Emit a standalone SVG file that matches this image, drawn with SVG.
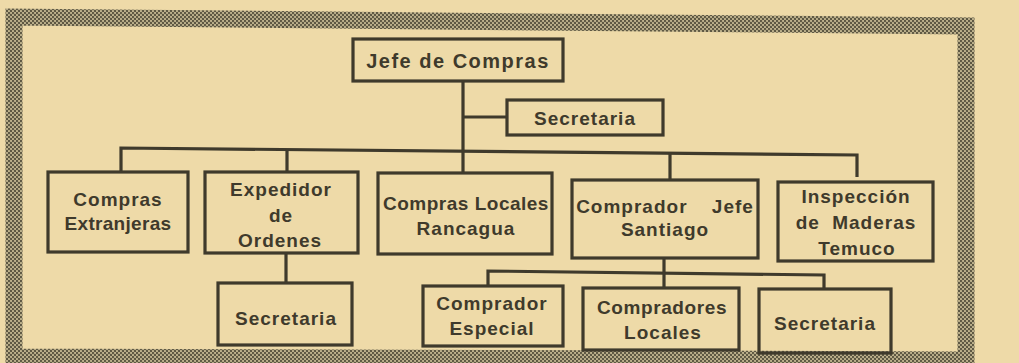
<svg xmlns="http://www.w3.org/2000/svg" width="1019" height="363" viewBox="0 0 1019 363">
<defs>
<pattern id="ht" width="4" height="4" patternUnits="userSpaceOnUse">
<rect width="4" height="4" fill="#bdb18c"/>
<circle cx="1" cy="1" r="1.15" fill="#5a5440"/>
<circle cx="3" cy="3" r="1.15" fill="#5a5440"/>
</pattern>
</defs>
<style>
.bg{fill:#eedaa8}
.frame{fill:none;stroke:url(#ht);stroke-width:17;stroke-linejoin:miter}
.box{fill:none;stroke:#3f3a2c;stroke-width:3.2}
.ln{fill:none;stroke:#3f3a2c;stroke-width:3.2;stroke-linejoin:miter}
text{font-family:"Liberation Sans",Arial,sans-serif;font-weight:bold;font-size:19px;fill:#3f3a2c;text-anchor:middle;letter-spacing:1px}
</style>
<rect class="bg" x="0" y="0" width="1019" height="363"/>
<path class="frame" d="M14,366 L14,17 L966,26 L966,366 M14,357 L966,360"/>
<g id="connectors">
<path class="ln" d="M463,81 V173"/>
<path class="ln" d="M463,117 H507"/>
<path class="ln" d="M121,172 V148 L857,155 V177"/>
<path class="ln" d="M287,149.5 V172"/>
<path class="ln" d="M670,153.5 V180"/>
<path class="ln" d="M286,253 V283"/>
<path class="ln" d="M488,286 V271 L824,275 V289"/>
<path class="ln" d="M664,258 V288"/>
</g>
<g id="jefe">
<rect class="box" x="353" y="39" width="210" height="42"/>
<text x="458" y="68" style="font-size:20px;letter-spacing:1.5px">Jefe de Compras</text>
</g>
<g id="secretaria-jefe">
<rect class="box" x="507" y="100" width="156" height="35"/>
<text x="585" y="125">Secretaria</text>
</g>
<g id="compras-extranjeras">
<rect class="box" x="48" y="172" width="140" height="80"/>
<text x="118" y="206">Compras</text>
<text x="118" y="230" style="letter-spacing:0.3px">Extranjeras</text>
</g>
<g id="expedidor">
<rect class="box" x="205" y="172" width="153" height="81"/>
<text x="281" y="196">Expedidor</text>
<text x="281" y="222">de</text>
<text x="280" y="247">Ordenes</text>
</g>
<g id="compras-locales">
<rect class="box" x="378" y="173" width="174" height="81"/>
<text x="466" y="210" style="letter-spacing:0.5px">Compras Locales</text>
<text x="466" y="235">Rancagua</text>
</g>
<g id="comprador-jefe">
<rect class="box" x="572" y="180" width="186" height="78"/>
<text x="665" y="213" style="word-spacing:18px">Comprador Jefe</text>
<text x="665" y="236">Santiago</text>
</g>
<g id="inspeccion">
<rect class="box" x="778" y="182" width="155" height="79"/>
<text x="856" y="203">Inspección</text>
<text x="856" y="229" style="word-spacing:6px">de Maderas</text>
<text x="857" y="255">Temuco</text>
</g>
<g id="secretaria-expedidor">
<rect class="box" x="218" y="283" width="134" height="62"/>
<text x="286" y="325">Secretaria</text>
</g>
<g id="comprador-especial">
<rect class="box" x="423" y="286" width="140" height="60"/>
<text x="492" y="310">Comprador</text>
<text x="492" y="335">Especial</text>
</g>
<g id="compradores-locales">
<rect class="box" x="583" y="288" width="156" height="62"/>
<text x="662" y="314" style="letter-spacing:0.6px">Compradores</text>
<text x="663" y="339">Locales</text>
</g>
<g id="secretaria-santiago">
<rect class="box" x="759" y="289" width="132" height="64"/>
<text x="825" y="330">Secretaria</text>
</g>
</svg>
